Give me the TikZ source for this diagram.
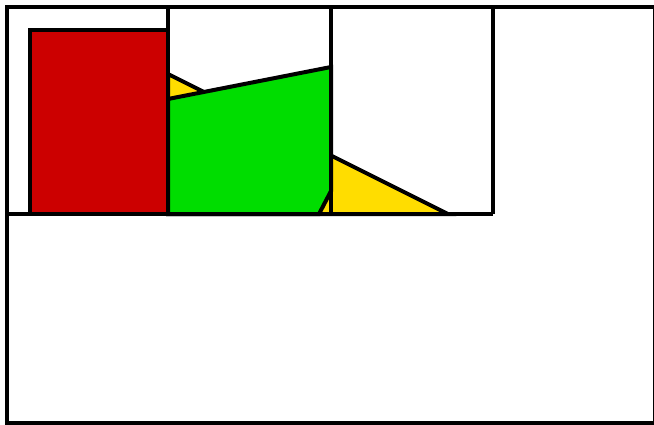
\documentclass[tikz,border=0pt]{standalone}
\begin{document}
\begin{tikzpicture}[x=1pt,y=-1pt,
  outline/.style={draw=black,line width=4pt,line join=miter},
  redfill/.style={outline,fill={rgb,255:red,204;green,0;blue,0}},
  greenfill/.style={outline,fill={rgb,255:red,0;green,221;blue,0}},
  yellowfill/.style={outline,fill={rgb,255:red,255;green,221;blue,0}}]
\useasboundingbox (0,0) rectangle (654,424);
% yellow triangle
\path[yellowfill] (168,74) -- (448,214) -- (168,214) -- cycle;
% green quadrilateral
\path[greenfill] (168,99) -- (331,67) -- (331,191) -- (319,214) -- (168,214) -- cycle;
% red rectangle
\path[redfill] (29.5,29.5) rectangle (168,214);
% grid
\draw[outline] (6.5,214) -- (493,214);
\draw[outline] (168,6.5) -- (168,214);
\draw[outline] (331,6.5) -- (331,214);
\draw[outline] (493,6.5) -- (493,214);
% outer frame
\draw[outline] (6.5,6.5) rectangle (654.5,422.5);
\end{tikzpicture}
\end{document}
